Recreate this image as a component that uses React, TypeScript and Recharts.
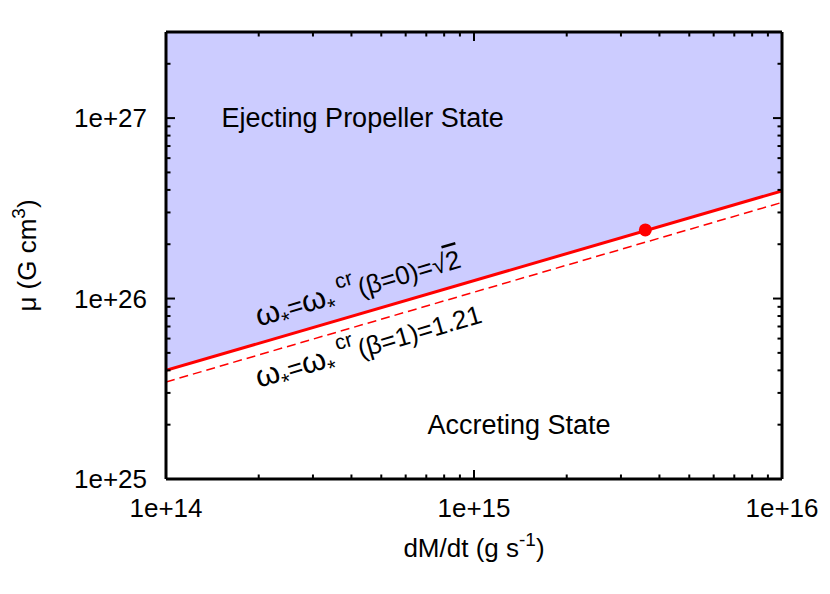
import React from "react";
import {
  ComposedChart, Area, Line, Scatter, XAxis, YAxis, ReferenceDot, Label,
} from "recharts";

const FONT = "'Liberation Sans', Arial, Helvetica, sans-serif";

// accretion rate (g/s) at the two ends of the plot
const mdot = [1e14, 1e16];
// critical fastness lines, mu in G cm^3
const muBeta0 = [4.0e25, 3.95e26];
const muBeta1 = [3.45e25, 3.41e26];
const muTop = 3e27;

// the marked source
const srcMdot = [3.6e15];
const srcMu = [2.4e26];

const xMajor = [1e14, 1e15, 1e16];
const xMinor = [2e14, 3e14, 4e14, 5e14, 6e14, 7e14, 8e14, 9e14, 2e15, 3e15, 4e15, 5e15, 6e15, 7e15, 8e15, 9e15];
const yMajor = [1e25, 1e26, 1e27];
const yMinor = [2e25, 3e25, 4e25, 5e25, 6e25, 7e25, 8e25, 9e25, 2e26, 3e26, 4e26, 5e26, 6e26, 7e26, 8e26, 9e26, 2e27];

// text anchors in data coordinates
const ejectPos = [4.35e14, 1.0e27];
const accretePos = [1.4e15, 1.98e25];
const beta0Pos = [2.0e14, 7.0e25];
const beta1Pos = [2.0e14, 3.2e25];

const rows = mdot.map((x, i) => ({
  x,
  solid: muBeta0[i],
  dashed: muBeta1[i],
  band: [muBeta0[i], muTop],
}));
const srcRows = srcMdot.map((x, i) => ({ x, y: srcMu[i] }));

const fmt = (v: number) => "1e+" + Math.round(Math.log10(v));
const isMajor = (list: number[], v: number) => list.some((m) => Math.abs(m / v - 1) < 1e-6);

function LeftTick({ x, y, payload }: any) {
  const major = isMajor(yMajor, payload.value);
  return (
    <g>
      <line x1={x} x2={x + (major ? 9 : 4.5)} y1={y} y2={y} stroke="#000" strokeWidth={2} />
      {major && (
        <text x={x - 19} y={y} dy={9} textAnchor="end" fontSize={26} fontFamily={FONT} fill="#000">
          {fmt(payload.value)}
        </text>
      )}
    </g>
  );
}

function RightTick({ x, y, payload }: any) {
  const major = isMajor(yMajor, payload.value);
  return <line x1={x} x2={x - (major ? 9 : 4.5)} y1={y} y2={y} stroke="#000" strokeWidth={2} />;
}

function BottomTick({ x, y, payload }: any) {
  const major = isMajor(xMajor, payload.value);
  return (
    <g>
      <line x1={x} x2={x} y1={y} y2={y - (major ? 9 : 4.5)} stroke="#000" strokeWidth={2} />
      {major && (
        <text x={x} y={y + 38} textAnchor="middle" fontSize={26} fontFamily={FONT} fill="#000">
          {fmt(payload.value)}
        </text>
      )}
    </g>
  );
}

function TopTick({ x, y, payload }: any) {
  const major = isMajor(xMajor, payload.value);
  return <line x1={x} x2={x} y1={y} y2={y + (major ? 9 : 4.5)} stroke="#000" strokeWidth={2} />;
}

const XTitle = ({ viewBox }: any) => (
  <text x={viewBox.x + viewBox.width / 2} y={viewBox.y + 78} textAnchor="middle" fontSize={26} fontFamily={FONT} fill="#000">
    dM/dt (g s<tspan fontSize={19} dy={-11}>-1</tspan><tspan dy={11}>)</tspan>
  </text>
);

const YTitle = ({ viewBox }: any) => {
  const cx = viewBox.x + 36;
  const cy = viewBox.y + viewBox.height / 2;
  return (
    <text x={cx} y={cy} transform={`rotate(-90 ${cx} ${cy})`} textAnchor="middle" fontSize={26} fontFamily={FONT} fill="#000">
      μ (G cm<tspan fontSize={19} dy={-11}>3</tspan><tspan dy={11}>)</tspan>
    </text>
  );
};

const PlainText = (text: string) => ({ viewBox }: any) => (
  <text x={viewBox.x} y={viewBox.y} dy={9} textAnchor="middle" fontSize={27} fontFamily={FONT} fill="#000">
    {text}
  </text>
);

const Fastness = (beta: string, val: React.ReactNode) => ({ viewBox }: any) => (
  <text x={viewBox.x} y={viewBox.y} transform={`rotate(-16.3 ${viewBox.x} ${viewBox.y})`} fontSize={26} fontFamily={FONT} fill="#000">
    <tspan fontSize={31}>ω</tspan>
    <tspan fontSize={22} dy={9}>*</tspan>
    <tspan dy={-9}>=</tspan>
    <tspan fontSize={31}>ω</tspan>
    <tspan fontSize={22} dy={9}>*</tspan>
    <tspan fontSize={21} dx={5} dy={-23}>cr</tspan>
    <tspan dx={3} dy={14}>(β={beta})={val}</tspan>
  </text>
);

const sqrt2 = (
  <>
    √<tspan textDecoration="overline">2</tspan>
  </>
);

const axisLine = { stroke: "#000", strokeWidth: 3 };

export default function App() {
  return (
    <div style={{ position: "absolute", left: 0, top: 0, width: 830, height: 594, background: "#fff" }}>
      <ComposedChart width={830} height={594} data={rows} margin={{ top: 0, right: 0, bottom: 0, left: 0 }}>
        <XAxis xAxisId="b" dataKey="x" type="number" scale="log" domain={[1e14, 1e16]} allowDataOverflow
          ticks={[...xMajor, ...xMinor]} interval={0} tickSize={0} tickMargin={0} tick={BottomTick}
          axisLine={axisLine} height={115}>
          <Label content={XTitle} />
        </XAxis>
        <XAxis xAxisId="t" orientation="top" dataKey="x" type="number" scale="log" domain={[1e14, 1e16]} allowDataOverflow
          ticks={[...xMajor, ...xMinor]} interval={0} tickSize={0} tickMargin={0} tick={TopTick}
          axisLine={axisLine} height={32} />
        <YAxis yAxisId="l" type="number" scale="log" domain={[1e25, muTop]} allowDataOverflow
          ticks={[...yMajor, ...yMinor]} interval={0} tickSize={0} tickMargin={0} tick={LeftTick}
          axisLine={axisLine} width={166}>
          <Label content={YTitle} />
        </YAxis>
        <YAxis yAxisId="r" orientation="right" type="number" scale="log" domain={[1e25, muTop]} allowDataOverflow
          ticks={[...yMajor, ...yMinor]} interval={0} tickSize={0} tickMargin={0} tick={RightTick}
          axisLine={axisLine} width={48} />

        <Area xAxisId="b" yAxisId="l" type="linear" dataKey="band" fill="#ccccff" fillOpacity={1} stroke="none" isAnimationActive={false} />
        <Line xAxisId="b" yAxisId="l" type="linear" dataKey="dashed" stroke="#ff0000" strokeWidth={1.5} strokeDasharray="9 5" dot={false} isAnimationActive={false} />
        <Line xAxisId="b" yAxisId="l" type="linear" dataKey="solid" stroke="#ff0000" strokeWidth={3} dot={false} isAnimationActive={false} />
        <Scatter xAxisId="b" yAxisId="l" data={srcRows} dataKey="y" fill="#ff0000" isAnimationActive={false}
          shape={(p: any) => <circle cx={p.cx} cy={p.cy} r={6.5} fill="#ff0000" />} />

        <ReferenceDot xAxisId="b" yAxisId="l" x={ejectPos[0]} y={ejectPos[1]} r={0} stroke="none" label={{ content: PlainText("Ejecting Propeller State") }} />
        <ReferenceDot xAxisId="b" yAxisId="l" x={accretePos[0]} y={accretePos[1]} r={0} stroke="none" label={{ content: PlainText("Accreting State") }} />
        <ReferenceDot xAxisId="b" yAxisId="l" x={beta0Pos[0]} y={beta0Pos[1]} r={0} stroke="none" label={{ content: Fastness("0", sqrt2) }} />
        <ReferenceDot xAxisId="b" yAxisId="l" x={beta1Pos[0]} y={beta1Pos[1]} r={0} stroke="none" label={{ content: Fastness("1", "1.21") }} />
      </ComposedChart>
    </div>
  );
}
